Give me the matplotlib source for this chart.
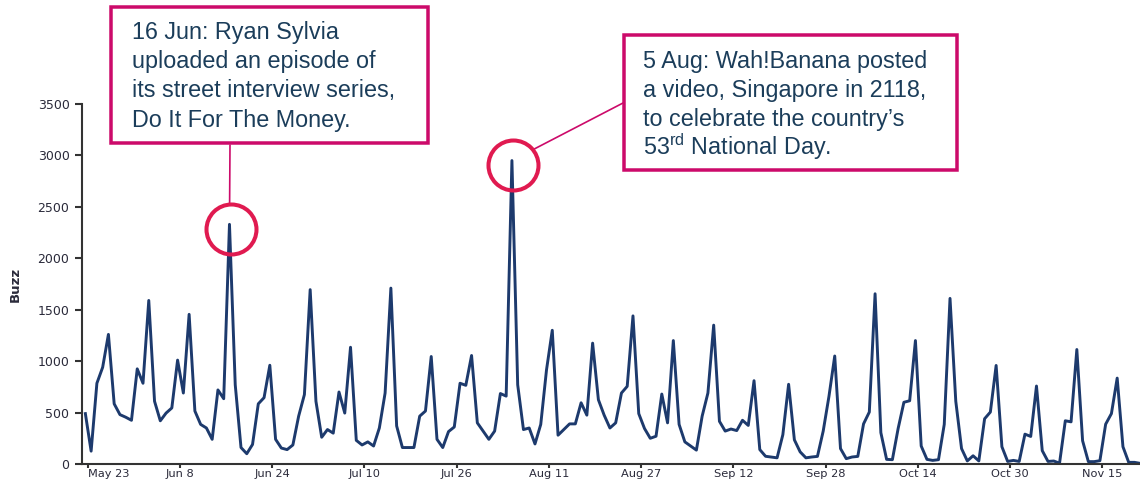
import matplotlib
matplotlib.use("Agg")
import matplotlib.pyplot as plt
import matplotlib.transforms as mtransforms
from matplotlib.patches import Rectangle
import pandas as pd
import numpy as np

# ---------------- data ----------------
start_date = "2018-05-23"
buzz_may = [490, 125, 785, 940, 1260, 585, 480, 455, 425]
buzz_jun = [925, 785, 1590, 610, 420, 495, 545, 1010, 690, 1455,
            515, 385, 350, 240, 720, 635, 2330, 770, 160, 100,
            190, 585, 645, 960, 240, 155, 140, 185, 465, 675]
buzz_jul = [1695, 610, 260, 335, 300, 700, 495, 1135, 230, 185,
            215, 175, 350, 690, 1710, 370, 160, 160, 160, 465,
            515, 1045, 240, 160, 315, 360, 785, 765, 1055, 400, 320]
buzz_aug = [240, 320, 685, 660, 2950, 770, 335, 350, 195, 385,
            915, 1300, 280, 335, 390, 390, 595, 475, 1175, 625,
            475, 350, 400, 690, 755, 1440, 490, 345, 250, 270, 680]
buzz_sep = [400, 1200, 385, 215, 175, 135, 465, 690, 1350, 415,
            320, 340, 325, 425, 375, 810, 140, 75, 68, 60,
            285, 775, 235, 118, 60, 68, 74, 320, 658, 1050]
buzz_oct = [150, 52, 68, 74, 390, 505, 1655, 305, 45, 42,
            345, 600, 615, 1200, 175, 45, 35, 42, 385, 1610,
            610, 150, 30, 80, 30, 440, 505, 958, 168, 25, 35]
buzz_nov = [25, 290, 268, 758, 130, 25, 29, 8, 420, 410,
            1113, 226, 23, 23, 32, 387, 490, 835, 168, 16, 16, 6]

buzz = buzz_may + buzz_jun + buzz_jul + buzz_aug + buzz_sep + buzz_oct + buzz_nov
dates = pd.date_range(start_date, periods=len(buzz), freq="D")

y_ticks = [0, 500, 1000, 1500, 2000, 2500, 3000, 3500]
x_tick_dates = pd.date_range(start_date, periods=12, freq="16D")
x_tick_labels = [f"{d:%b} {d.day}" for d in x_tick_dates]

note1_lines = ["16 Jun: Ryan Sylvia", "uploaded an episode of",
               "its street interview series,", "Do It For The Money."]
note2_lines = ["5 Aug: Wah!Banana posted", "a video, Singapore in 2118,",
               "to celebrate the country\u2019s", r"$53^{\mathrm{rd}}$ National Day."]

# ---------------- style ----------------
plt.rcParams["mathtext.fontset"] = "custom"
plt.rcParams["mathtext.rm"] = "Liberation Sans"
plt.rcParams["mathtext.it"] = "Liberation Sans:italic"
plt.rcParams["mathtext.bf"] = "Liberation Sans:bold"

W, H = 1140, 482
fig = plt.figure(figsize=(W / 100, H / 100), dpi=100)
ax = fig.add_axes([82 / W, 18 / H, 1058 / W, 360 / H])

line_color = "#1d3a6d"
axis_color = "#333333"
box_color = "#cc0a6a"
circle_color = "#e01a50"
text_color = "#1b3d5a"
tick_text = "#2a2a3a"

ax.plot(dates, buzz, color=line_color, lw=2.1, solid_joinstyle="round")

ax.set_ylim(0, 3500)
ax.set_xlim(dates[0] - pd.Timedelta(hours=14), dates[-1] - pd.Timedelta(hours=1))
ax.set_yticks(y_ticks)
ax.set_yticklabels([str(v) for v in y_ticks])
ax.set_xticks(x_tick_dates + pd.Timedelta(hours=10))
ax.set_xticklabels(x_tick_labels)

for s in ["top", "right"]:
    ax.spines[s].set_visible(False)
for s in ["left", "bottom"]:
    ax.spines[s].set_color(axis_color)
    ax.spines[s].set_linewidth(1.5)

ax.tick_params(axis="y", direction="out", length=5, width=1.5, color=axis_color,
               pad=4, labelsize=9, labelcolor=tick_text)
ax.tick_params(axis="x", direction="out", length=3, width=1.5, color=axis_color,
               pad=0.5, labelsize=8.2, labelcolor=tick_text)
for lab in ax.get_yticklabels() + ax.get_xticklabels():
    lab.set_fontfamily("DejaVu Sans")
ax.get_xticklabels()[0].set_horizontalalignment("left")

ax.set_ylabel("Buzz", fontsize=9.5, fontweight="bold", color=tick_text,
              family="DejaVu Sans")
ax.yaxis.set_label_coords(-0.057, 0.5)


# ---------------- annotations ----------------
def fpt(x, y):
    """image pixel (from top-left) -> figure fraction"""
    return (x / W, 1 - y / H)


def add_box(x0, y0, x1, y1):
    lw_px = 3.5
    xa, ya = fpt(x0 + lw_px / 2, y1 - lw_px / 2)
    xb, yb = fpt(x1 - lw_px / 2, y0 + lw_px / 2)
    r = Rectangle((xa, ya), xb - xa, yb - ya, transform=fig.transFigure,
                  facecolor="white", edgecolor=box_color, lw=lw_px * 0.72,
                  zorder=5)
    fig.add_artist(r)


def add_lines(lines, x, baselines):
    for txt, yb in zip(lines, baselines):
        fx, fy = fpt(x, yb)
        fig.text(fx, fy, txt, ha="left", va="baseline", fontsize=16.8,
                 family="Liberation Sans", color=text_color, zorder=6)


buzz_arr = np.array(buzz)
i1 = int(np.argmax(buzz_arr[:60]))
i2 = int(np.argmax(buzz_arr))

# connector lines (drawn first so circles sit on top)
ax.annotate("", xy=(dates[i1], buzz[i1]), xycoords="data",
            xytext=fpt(230, 145), textcoords="figure fraction",
            arrowprops=dict(arrowstyle="-", color=box_color, lw=1.2,
                            shrinkA=0, shrinkB=15), annotation_clip=False)
ax.annotate("", xy=(dates[i2], buzz[i2]), xycoords="data",
            xytext=fpt(623, 103), textcoords="figure fraction",
            arrowprops=dict(arrowstyle="-", color=box_color, lw=1.2,
                            shrinkA=0, shrinkB=18), annotation_clip=False)

add_box(109.3, 5, 429.3, 145)
add_lines(note1_lines, 131.7, [39.5, 68.5, 97.5, 126.5])
add_box(622.7, 33.3, 958.3, 171.7)
add_lines(note2_lines, 643.3, [68.3, 97, 125.7, 155])

# circles around the two spikes
off = mtransforms.ScaledTranslation(0.015, -0.045, fig.dpi_scale_trans)
for i in (i1, i2):
    ax.plot([dates[i]], [buzz[i]], marker="o", ms=36, mfc="none",
            mec=circle_color, mew=2.9, transform=ax.transData + off,
            clip_on=False, zorder=7)

fig.savefig("out.png", dpi=100)
